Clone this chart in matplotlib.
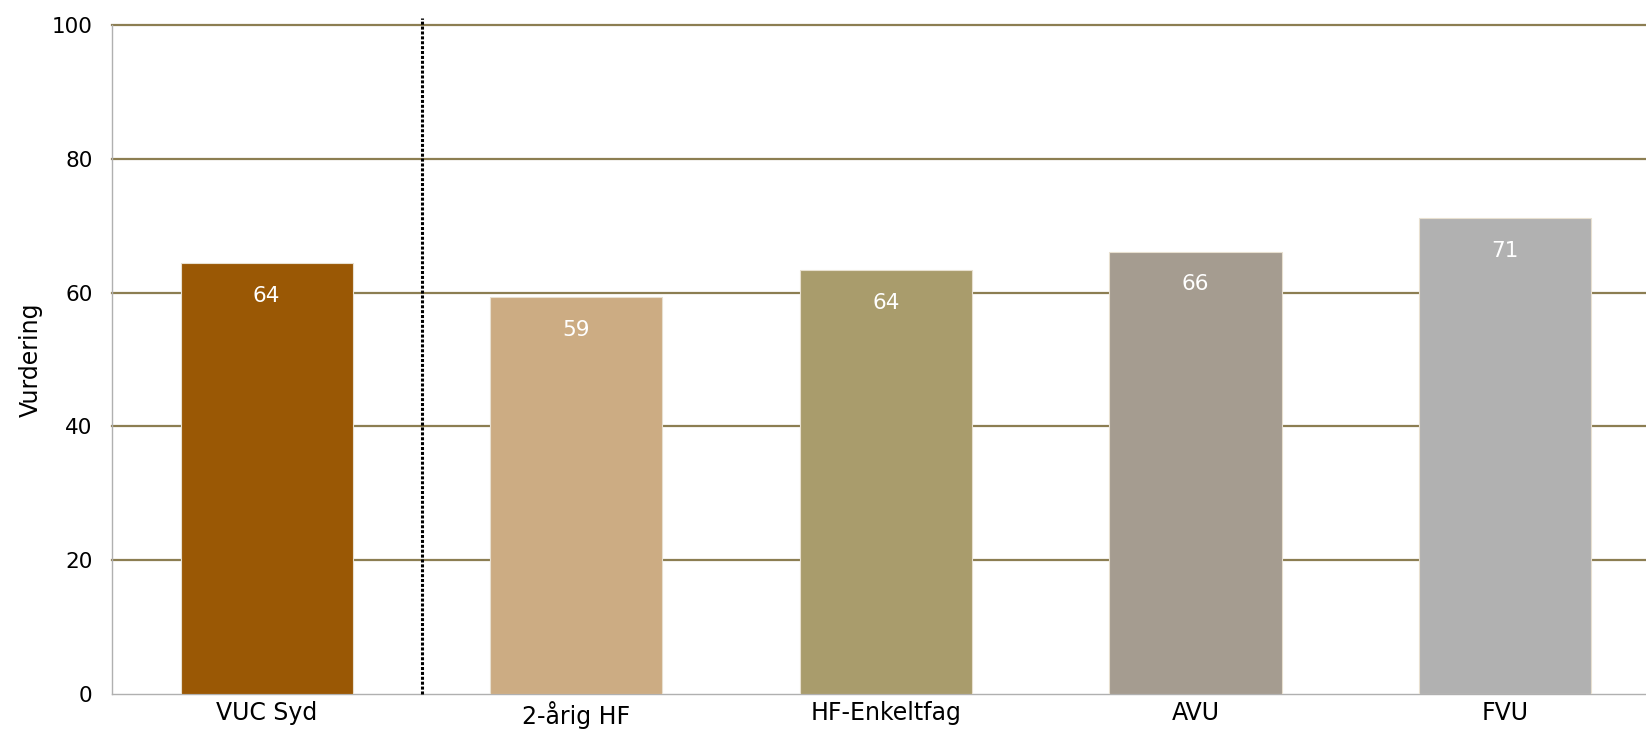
import matplotlib
matplotlib.use('Agg')
import matplotlib.pyplot as plt

categories = ['VUC Syd', '2-årig HF', 'HF-Enkeltfag', 'AVU', 'FVU']
values = [64.4, 59.3, 63.3, 66.1, 71.1]
labels = ['64', '59', '64', '66', '71']
colors = ['#9A5805', '#CCAC83', '#A99C6C', '#A59C90', '#B1B1B1']
yticks = [0, 20, 40, 60, 80, 100]

fig = plt.figure(figsize=(16.46, 7.35), dpi=100)
ax = fig.add_axes([0.068, 0.056, 0.932, 0.910])

x = list(range(len(categories)))
bars = ax.bar(x, values, width=0.556, color=colors, edgecolor='#E8E0D0', linewidth=0.8, zorder=3)

for b, lab in zip(bars, labels):
    ax.text(b.get_x() + b.get_width() / 2, b.get_height() - 3.4, lab,
            ha='center', va='top', color='white', fontsize=15.5, zorder=4)

# gridlines (not at zero, the base line stays grey)
for yv in yticks[1:]:
    ax.axhline(yv, color='#8C7E52', linewidth=1.6, zorder=0, clip_on=False)

# separator between total and the individual programmes
ax.axvline(0.5, ymin=0, ymax=1.01, color='black', linestyle=(0, (1, 0.6)), linewidth=2.2, zorder=5, clip_on=False)

ax.set_xlim(-0.5, 4.455)
ax.set_ylim(0, 100)
ax.set_yticks(yticks)
ax.set_xticks(x)
ax.set_xticklabels(categories, fontsize=17)
ax.tick_params(axis='both', length=0, colors='black')
ax.tick_params(axis='y', pad=14, labelsize=15.5)
ax.tick_params(axis='x', pad=5)
ax.set_ylabel('Vurdering', fontsize=17, labelpad=6)

for s in ['top', 'right']:
    ax.spines[s].set_visible(False)
ax.spines['left'].set_color('#B0B0B0')
ax.spines['bottom'].set_color('#B0B0B0')
ax.spines['left'].set_linewidth(1)
ax.spines['bottom'].set_linewidth(1)

fig.savefig('out.png', dpi=100)
